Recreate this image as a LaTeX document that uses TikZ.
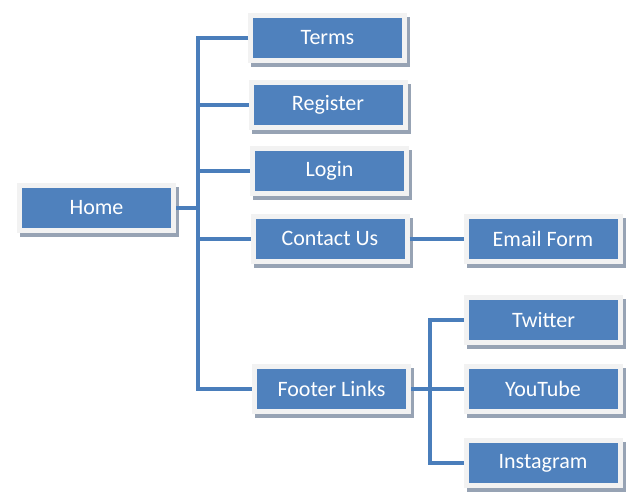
\documentclass[tikz,border=0pt]{standalone}
\usepackage{fontspec}
\setmainfont{Carlito}
\definecolor{boxblue}{HTML}{4F81BD}
\definecolor{frame}{HTML}{F2F2F2}
\definecolor{shade}{HTML}{97A3B4}
\definecolor{conn}{HTML}{4A7EBB}
\begin{document}
\begin{tikzpicture}[x=1pt,y=-1pt,
  pagebox/.style={rectangle, minimum width=154pt, minimum height=45pt, inner sep=0pt,
    draw=frame, line width=5pt, fill=boxblue, text=white,
    font=\fontsize{22}{26}\selectfont,
    preaction={draw=shade, fill=shade, line width=5pt, transform canvas={shift={(3pt,-4pt)}}}},
  link/.style={draw=conn, line width=4pt}]
\useasboundingbox (0,0) rectangle (639,503);
\node[pagebox] (home) at (96.5,207.5) {Home};
\node[pagebox] (terms) at (327.5,38) {Terms};
\node[pagebox] (register) at (328,105) {Register};
\node[pagebox] (login) at (329.5,171) {Login};
\node[pagebox] (contact) at (330,238.5) {Contact Us};
\node[pagebox] (footer) at (331.5,389) {Footer Links};
\node[pagebox] (email) at (543,238.5) {Email Form};
\node[pagebox] (twitter) at (543.5,320) {Twitter};
\node[pagebox] (youtube) at (543,389) {YouTube};
\node[pagebox] (insta) at (543,463) {Instagram};
\coordinate (t) at (198,207.5);
\coordinate (s) at (430,389);
\draw[link] (home.east) -- (t);
\draw[link] (terms.west) -| (t) |- (footer.west);
\draw[link] (t) |- (register.west);
\draw[link] (t) |- (login.west);
\draw[link] (t) |- (contact.west);
\draw[link] (contact.east) -- (email.west);
\draw[link] (footer.east) -- (youtube.west);
\draw[link] (twitter.west) -| (s) |- (insta.west);
\end{tikzpicture}
\end{document}
